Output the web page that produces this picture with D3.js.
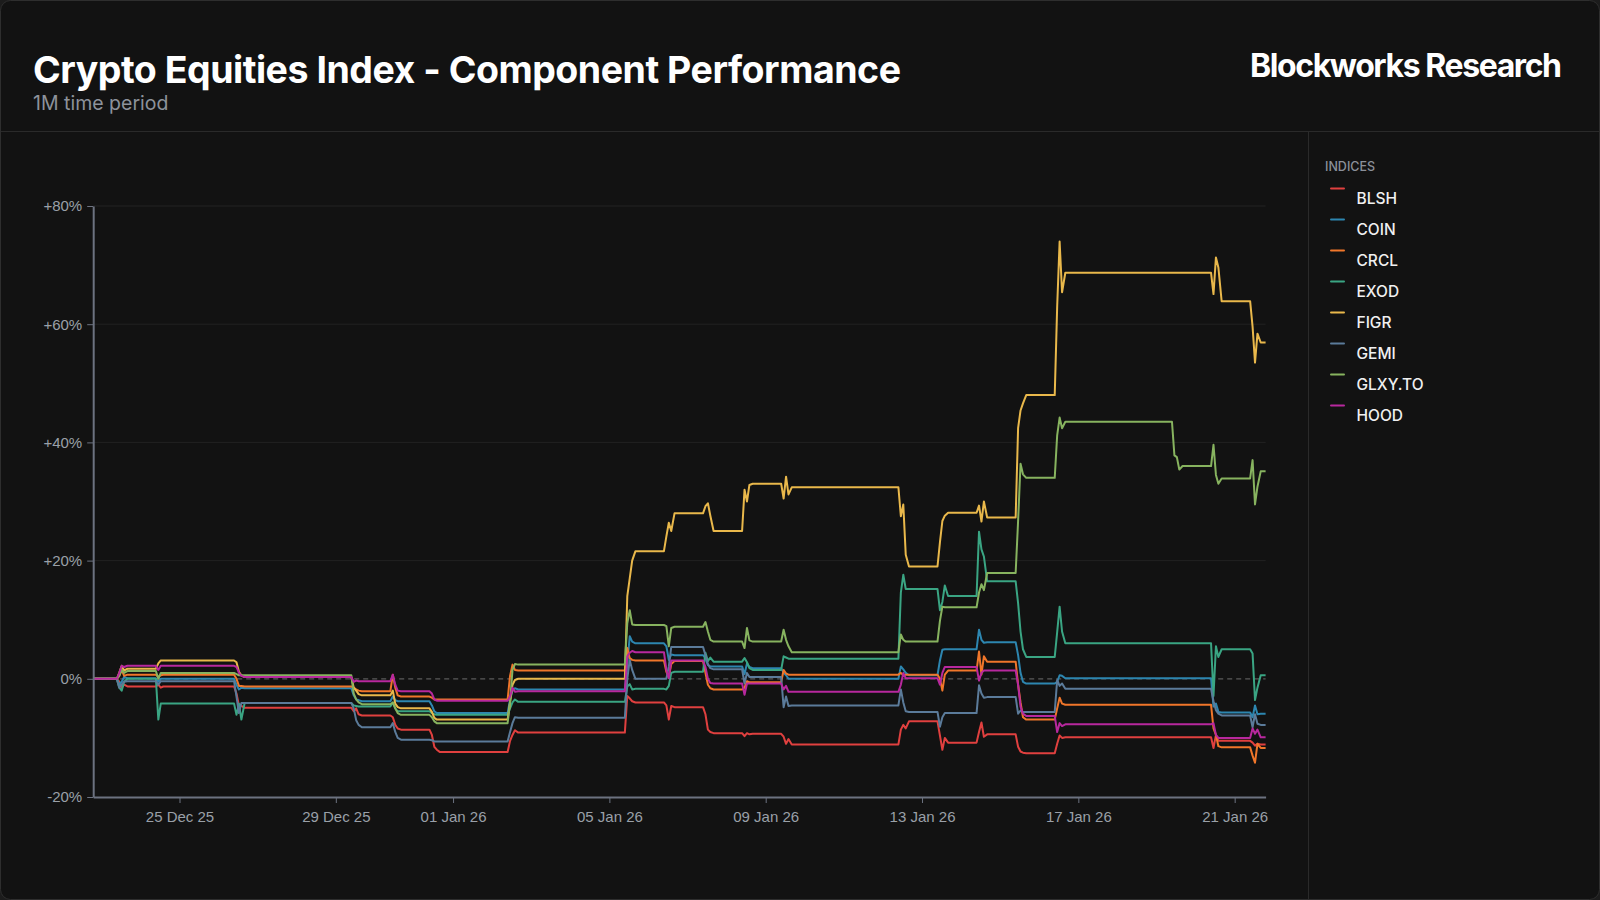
<!DOCTYPE html>
<html>
<head>
<meta charset="utf-8">
<script src="https://cdn.jsdelivr.net/npm/d3@7"></script>
<style>
  html, body { margin: 0; padding: 0; background: #1c1c1c; }
  svg { display: block; }
</style>
</head>
<body>
<svg id="chart" width="1600" height="900"></svg>
<script>
// ---- data ----
const seriesNames = ['BLSH', 'COIN', 'CRCL', 'EXOD', 'FIGR', 'GEMI', 'GLXY.TO', 'HOOD'];

const startTime = '2025-12-22T19:00';
const endTime = '2026-01-21T19:00';
const sessionDays = [
  '2025-12-23', '2025-12-24', '2025-12-26', '2025-12-29', '2025-12-30', '2025-12-31',
  '2026-01-02', '2026-01-05', '2026-01-06', '2026-01-07', '2026-01-08', '2026-01-09',
  '2026-01-12', '2026-01-13', '2026-01-14', '2026-01-15', '2026-01-16', '2026-01-19',
  '2026-01-20', '2026-01-21'
];
const sessionHours = ['09:30', '11:00', '12:30', '14:00', '16:00'];

const xTickDays = ['2025-12-25', '2025-12-29', '2026-01-01', '2026-01-05', '2026-01-09', '2026-01-13', '2026-01-17', '2026-01-21'];
const yTickValues = [-20, 0, 20, 40, 60, 80];

// % change, one value at start, five per session, one at end
const BLSH = [
  0,
  0, -0.5, -1.5, -1.0, -1.3,
  -1.3, -1.0, -1.5, -1.3, -1.3,
  -1.3, -2.5, -4.5, -4.6, -4.9,
  -4.9, -5.5, -5.0, -6.0, -6.2,
  -6.2, -6.5, -7.8, -8.4, -8.6,
  -8.6, -9.5, -11.5, -12.0, -12.4,
  -12.4, -10.5, -9.5, -8.7, -9.1,
  -9.1, -2.9, -3.3, -3.8, -4.0,
  -4.0, -4.5, -6.9, -4.6, -4.8,
  -4.8, -6.0, -8.6, -9.0, -9.2,
  -9.2, -9.7, -9.2, -9.4, -9.3,
  -9.3, -9.8, -11.0, -10.2, -11.1,
  -11.1, -8.6, -7.8, -8.4, -7.2,
  -7.2, -9.6, -12.0, -10.0, -10.8,
  -10.8, -9.0, -7.4, -9.8, -9.4,
  -9.4, -11.5, -12.3, -12.5, -12.6,
  -12.6, -11.0, -9.6, -10.0, -9.9,
  -9.9, -9.9, -9.9, -9.9, -9.9,
  -9.9, -11.7, -9.5, -10.5, -10.5,
  -10.5, -10.8, -11.3, -11.0, -11.1,
  -11.1
];
const COIN = [
  0,
  0, -1.0, -0.5, 0.3, 0.1,
  0.1, -0.5, 0.0, 0.0, 0.0,
  0.0, -1.0, -1.8, -1.5, -1.6,
  -1.6, -2.8, -3.5, -3.6, -3.8,
  -3.8, -3.0, -3.6, -3.8, -3.8,
  -3.8, -4.5, -5.5, -5.8, -5.8,
  -5.8, -3.5, -2.0, -1.6, -1.8,
  -1.8, 2.5, 7.2, 6.3, 6.0,
  6.0, 5.5, 3.2, 4.1, 4.0,
  4.0, 3.5, 2.3, 2.1, 2.1,
  2.1, 0.8, 2.6, 2.0, 1.8,
  1.8, 1.0, 0.6, 0.0, 0.0,
  0.0, 2.1, 1.6, 1.0, 0.6,
  0.6, 3.1, 4.9, 5.0, 5.0,
  5.0, 8.3, 6.6, 6.1, 6.2,
  6.2, 4.0, 1.0, -0.5, -0.8,
  -0.8, -0.5, 0.6, 0.5, 0.1,
  0.1, 0.1, 0.1, 0.1, 0.1,
  0.1, -4.7, -4.2, -5.6, -5.7,
  -5.7, -6.5, -4.5, -6.0, -5.9,
  -5.9
];
const CRCL = [
  0,
  0, 0.5, 1.5, 0.5, 0.7,
  0.7, 0.3, 0.6, 0.7, 0.7,
  0.7, 0.0, -1.2, -1.2, -1.3,
  -1.3, -1.5, -1.8, -2.0, -2.1,
  -2.1, 0.7, -1.5, -2.8, -3.0,
  -3.0, -3.2, -3.5, -3.5, -3.5,
  -3.5, 0.5, 2.4, 1.5, 1.4,
  1.4, 5.2, 3.5, 3.2, 3.1,
  3.1, 1.2, 0.3, 2.5, 3.0,
  3.0, 1.0, -1.0, -1.6, -1.8,
  -1.8, -1.5, -0.4, -0.6, -0.6,
  -0.6, 1.5, 0.9, 0.7, 0.7,
  0.7, 1.0, 0.6, 0.7, 0.7,
  0.7, 0.0, -2.0, 0.7, 1.4,
  1.4, 4.6, 0.7, 3.8, 2.9,
  2.9, -1.0, -4.0, -6.5, -6.9,
  -6.9, -5.0, -3.2, -4.2, -4.4,
  -4.4, -4.4, -4.4, -4.4, -4.4,
  -4.4, -8.4, -9.5, -11.4, -11.6,
  -11.6, -13.0, -14.2, -11.0, -11.7,
  -11.7
];
const EXOD = [
  0,
  0, -1.5, -2.0, -0.5, 0.0,
  0.0, -6.9, -4.2, -4.2, -4.2,
  -4.2, -6.1, -4.2, -6.9, -4.1,
  -4.1, -4.5, -4.6, -4.7, -4.7,
  -4.7, -4.0, -5.0, -5.5, -5.5,
  -5.5, -5.8, -6.0, -6.1, -6.1,
  -6.1, -5.0, -4.0, -3.5, -3.9,
  -3.9, -1.3, -0.9, -1.8, -1.7,
  -1.7, -1.8, -1.2, 1.0, 1.2,
  1.2, 4.4, 3.0, 3.6, 2.9,
  2.9, 3.5, 2.8, 1.8, 1.5,
  1.5, 3.8, 3.6, 3.4, 3.4,
  3.4, 14.6, 17.6, 15.2, 15.2,
  15.2, 11.6, 13.0, 15.8, 14.0,
  14.0, 24.9, 21.9, 20.7, 16.5,
  16.5, 12.8, 8.0, 5.0, 3.7,
  3.7, 7.9, 12.2, 8.0, 6.0,
  6.0, 6.0, 6.0, 6.0, 6.0,
  6.0, -2.9, 5.5, 3.7, 5.0,
  5.0, 4.3, -3.6, -1.5, 0.6,
  0.6
];
const FIGR = [
  0,
  0, 1.0, 2.2, 1.4, 1.7,
  1.7, 2.6, 3.1, 3.1, 3.1,
  3.1, 2.8, 1.2, 0.6, 0.3,
  0.3, -1.5, -2.0, -2.6, -2.8,
  -2.8, -2.0, -4.2, -4.8, -5.0,
  -5.0, -5.6, -6.6, -6.9, -6.9,
  -6.9, -4.0, -1.0, -0.2, 0.0,
  0.0, 14.0, 17.0, 20.0, 21.6,
  21.6, 24.1, 26.4, 25.0, 28.0,
  28.0, 29.2, 29.7, 27.6, 25.0,
  25.0, 32.0, 30.0, 32.8, 33.0,
  33.0, 30.5, 34.2, 31.2, 32.4,
  32.4, 27.5, 29.5, 21.0, 19.0,
  19.0, 23.1, 26.7, 27.6, 28.1,
  28.1, 29.3, 26.6, 30.0, 27.3,
  27.3, 42.4, 45.4, 46.6, 48.0,
  48.0, 63.0, 74.0, 65.4, 68.7,
  68.7, 68.7, 68.7, 68.7, 68.7,
  68.7, 65.1, 71.3, 69.6, 63.9,
  63.9, 59.6, 53.5, 58.4, 56.9,
  56.9
];
const GEMI = [
  0,
  0, -1.5, -1.0, -0.5, -0.4,
  -0.4, -1.0, -0.4, -0.4, -0.4,
  -0.4, -3.0, -5.8, -4.1, -4.1,
  -4.1, -5.0, -7.0, -7.8, -8.2,
  -8.2, -7.5, -9.0, -10.0, -10.3,
  -10.3, -10.4, -10.6, -10.6, -10.6,
  -10.6, -9.0, -7.5, -6.5, -6.6,
  -6.6, 0.0, 3.2, 1.5, 0.0,
  0.0, 0.0, 2.1, 5.4, 5.4,
  5.4, 4.0, 2.5, 1.8, 1.6,
  1.6, -0.8, 1.0, 0.3, 0.3,
  0.3, -4.8, -3.0, -4.6, -4.5,
  -4.5, -1.8, -4.0, -5.5, -5.6,
  -5.6, -8.1, -6.5, -5.8, -5.8,
  -5.8, -1.1, -2.5, -3.2, -3.1,
  -3.1, -5.9, -5.4, -5.6, -5.6,
  -5.6, -0.2, -1.2, -0.8, -1.7,
  -1.7, -1.7, -1.7, -1.7, -1.7,
  -1.7, -3.8, -5.3, -5.9, -6.2,
  -6.2, -8.2, -6.0, -7.6, -7.8,
  -7.8
];
const GLXY = [
  0,
  0, 0.5, 1.5, 1.0, 1.3,
  1.3, 0.0, 1.0, 1.0, 1.0,
  1.0, 0.8, 0.6, 0.6, 0.6,
  0.6, -2.5, -3.5, -4.0, -4.3,
  -4.3, -4.0, -5.0, -5.8, -6.1,
  -6.1, -6.5, -7.2, -7.5, -7.5,
  -7.5, -4.0, 1.5, 2.5, 2.4,
  2.4, 9.4, 11.6, 9.2, 9.1,
  9.1, 8.9, 5.5, 8.6, 8.8,
  8.8, 9.6, 8.0, 6.6, 6.3,
  6.3, 5.2, 8.6, 6.5, 6.3,
  6.3, 8.3, 6.6, 5.5, 4.5,
  4.5, 7.5, 6.6, 6.3, 6.3,
  6.3, 9.8, 12.2, 12.1, 12.1,
  12.1, 14.6, 16.0, 15.0, 17.9,
  17.9, 26.7, 36.4, 34.6, 34.0,
  34.0, 41.2, 44.2, 42.4, 43.5,
  43.5, 37.8, 37.5, 35.4, 36.0,
  36.0, 39.6, 34.5, 33.0, 33.9,
  33.9, 37.0, 29.5, 32.5, 35.1,
  35.1
];
const HOOD = [
  0,
  0, 1.0, 2.2, 2.0, 2.2,
  2.2, 1.5, 2.2, 2.2, 2.2,
  2.2, 2.0, 1.0, 0.5, 0.3,
  0.3, -0.5, -0.3, -0.4, -0.4,
  -0.4, 0.7, -1.0, -2.0, -2.1,
  -2.1, -2.5, -3.5, -3.7, -3.7,
  -3.7, -3.0, -1.5, -2.2, -2.1,
  -2.1, 3.8, 4.4, 4.7, 4.5,
  4.5, 1.5, 0.1, 3.1, 3.1,
  3.1, 2.0, 0.0, -0.7, -0.8,
  -0.8, -2.7, -0.8, -0.8, -0.8,
  -0.8, -1.8, -1.2, -2.2, -2.2,
  -2.2, -1.0, 1.0, 0.1, 0.1,
  0.1, -1.0, 1.0, 2.0, 2.0,
  2.0, -0.3, 1.0, 1.4, 1.4,
  1.4, -1.0, -4.7, -5.9, -6.3,
  -6.3, -9.0, -7.5, -8.0, -7.7,
  -7.7, -7.7, -7.7, -7.7, -7.7,
  -7.7, -7.5, -9.5, -10.0, -10.0,
  -10.0, -8.4, -9.3, -8.6, -9.9,
  -9.9
];
const seriesValues = [BLSH, COIN, CRCL, EXOD, FIGR, GEMI, GLXY, HOOD];

// ---- styles ----
const colors = ['#e0403f', '#2d86b0', '#f0762a', '#3aa583', '#e9b84b', '#5b7b9a', '#87b35f', '#b8289e'];
const bg = '#121212';
const axisColor = '#6c7280';
const tickText = '#9aa0a8';

const W = 1600;
const H = 900;
const plot = { left: 93.2, right: 1265.6, top: 206, bottom: 797 };

const parseTime = d3.timeParse('%Y-%m-%dT%H:%M');
const parseDay = d3.timeParse('%Y-%m-%d');

const times = [startTime]
  .concat(...sessionDays.map(d => sessionHours.map(h => `${d}T${h}`)))
  .concat([endTime])
  .map(parseTime);

const x = d3.scaleTime()
  .domain([parseTime(startTime), parseTime(endTime)])
  .range([plot.left, plot.right]);
const y = d3.scaleLinear()
  .domain([-20, 80])
  .range([plot.bottom, plot.top]);

const svg = d3.select('#chart');

// card
svg.append('rect')
  .attr('x', 0.5).attr('y', 0.5)
  .attr('width', W - 1).attr('height', H - 1)
  .attr('rx', 10)
  .attr('fill', bg)
  .attr('stroke', '#2e2e2e');

svg.append('line')
  .attr('x1', 1).attr('x2', W - 1)
  .attr('y1', 131.5).attr('y2', 131.5)
  .attr('stroke', '#2a2a2a');
svg.append('line')
  .attr('x1', 1308.5).attr('x2', 1308.5)
  .attr('y1', 132).attr('y2', H - 1)
  .attr('stroke', '#2a2a2a');

// 글자 간격을 맞춰 폭을 원본에 맞춘다
function fitWidth(sel, target) {
  const node = sel.node();
  const n = sel.text().length;
  const natural = node.getComputedTextLength();
  sel.attr('letter-spacing', (target - natural) / (n - 1));
}

const title = svg.append('text')
  .attr('x', 33).attr('y', 83)
  .attr('fill', '#ffffff')
  .attr('font-family', 'Inter, "Noto Sans", sans-serif')
  .attr('font-weight', 700)
  .attr('font-size', 37.5)
  .text('Crypto Equities Index - Component Performance');
fitWidth(title, 868);

svg.append('text')
  .attr('x', 33).attr('y', 109.5)
  .attr('fill', '#8d929b')
  .attr('font-family', 'Inter, "Noto Sans", sans-serif')
  .attr('font-size', 19.5)
  .text('1M time period');

const brand = svg.append('text')
  .attr('x', 1250).attr('y', 77)
  .attr('fill', '#ffffff')
  .attr('font-family', 'Inter, "Noto Sans", sans-serif')
  .attr('font-weight', 700)
  .attr('font-size', 32)
  .text('Blockworks Research');
fitWidth(brand, 312);

// grid
svg.append('g')
  .selectAll('line')
  .data(yTickValues.filter(v => v !== 0 && v !== -20))
  .enter()
  .append('line')
  .attr('x1', plot.left).attr('x2', plot.right)
  .attr('y1', d => y(d)).attr('y2', d => y(d))
  .attr('stroke', '#222222');

svg.append('line')
  .attr('x1', plot.left).attr('x2', plot.right)
  .attr('y1', y(0)).attr('y2', y(0))
  .attr('stroke', '#5a5a5a')
  .attr('stroke-width', 1.2)
  .attr('stroke-dasharray', '5,4');

// lines
const line = d3.line()
  .x((d, i) => x(times[i]))
  .y(d => y(d));

svg.append('g')
  .selectAll('path')
  .data(seriesValues)
  .enter()
  .append('path')
  .attr('d', d => line(d))
  .attr('fill', 'none')
  .attr('stroke', (d, i) => colors[i])
  .attr('stroke-width', 2)
  .attr('stroke-linejoin', 'round');

// axes
const yAxis = d3.axisLeft(y)
  .tickValues(yTickValues)
  .tickSize(6)
  .tickSizeOuter(0)
  .tickPadding(5)
  .tickFormat(v => (v > 0 ? `+${v}%` : `${v}%`));
const xAxis = d3.axisBottom(x)
  .tickValues(xTickDays.map(parseDay))
  .tickSize(6)
  .tickSizeOuter(0)
  .tickPadding(8)
  .tickFormat(d3.timeFormat('%d %b %y'));

const yG = svg.append('g')
  .attr('transform', `translate(${ plot.left }, 0)`)
  .call(yAxis);
const xG = svg.append('g')
  .attr('transform', `translate(0, ${ plot.bottom })`)
  .call(xAxis);

[yG, xG].forEach(g => {
  g.select('.domain').attr('stroke', axisColor).attr('stroke-width', 2);
  g.selectAll('.tick line').attr('stroke', axisColor);
  g.selectAll('.tick text')
    .attr('fill', tickText)
    .attr('font-family', '"Liberation Sans", Arial, sans-serif')
    .attr('font-size', 15);
});

// legend
svg.append('text')
  .attr('x', 1325).attr('y', 170.5)
  .attr('fill', '#8b9099')
  .attr('font-family', 'Inter, "Noto Sans", sans-serif')
  .attr('font-weight', 500)
  .attr('font-size', 12.5)
  .text('INDICES');

const legend = svg.append('g')
  .selectAll('g')
  .data(seriesNames)
  .enter()
  .append('g')
  .attr('transform', (d, i) => `translate(0, ${ i * 31 })`);

legend.append('line')
  .attr('x1', 1331).attr('x2', 1344)
  .attr('y1', 188.5).attr('y2', 188.5)
  .attr('stroke', (d, i) => colors[i])
  .attr('stroke-width', 2)
  .attr('stroke-linecap', 'round');

legend.append('text')
  .attr('x', 1356.5).attr('y', 203.5)
  .attr('fill', '#f0f0f0')
  .attr('font-family', 'Inter, "Noto Sans", sans-serif')
  .attr('font-weight', 500)
  .attr('font-size', 15.5)
  .text(d => d);
</script>
</body>
</html>
